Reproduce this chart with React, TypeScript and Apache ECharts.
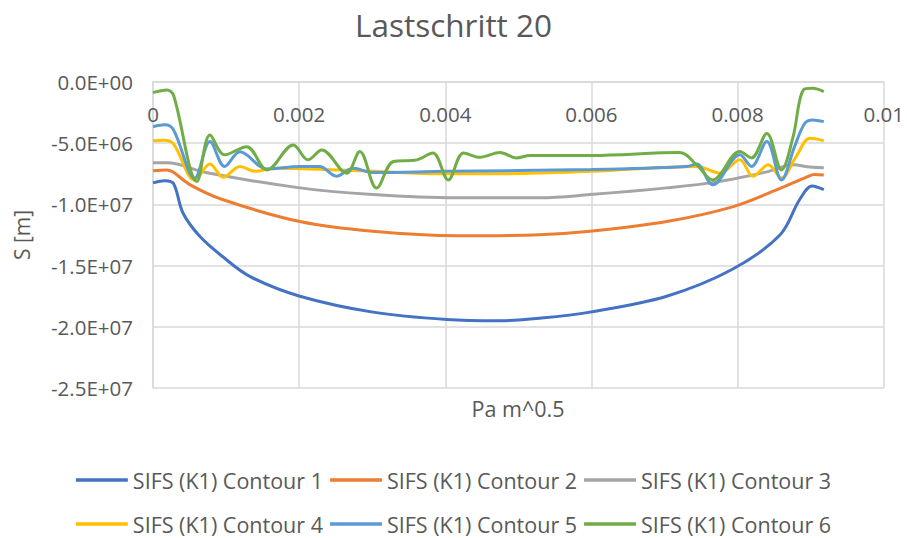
import React, { useEffect, useRef } from "react";
import * as echarts from "echarts";

const seriesNames = [
  "SIFS (K1) Contour 1",
  "SIFS (K1) Contour 2",
  "SIFS (K1) Contour 3",
  "SIFS (K1) Contour 4",
  "SIFS (K1) Contour 5",
  "SIFS (K1) Contour 6",
];
const colors = ["#4472C4", "#ED7D31", "#A5A5A5", "#FFC000", "#5B9BD5", "#70AD47"];

const c1X = [0, 0.00016, 0.00028, 0.00041, 0.00064, 0.00096, 0.00133, 0.00201, 0.00301, 0.00402, 0.00475, 0.00529, 0.00598, 0.00703, 0.00793, 0.00858, 0.00885, 0.00902, 0.00918];
const c1Y = [-8.24e6, -8.07e6, -8.3e6, -1.07e7, -1.26e7, -1.43e7, -1.59e7, -1.75e7, -1.88e7, -1.94e7, -1.95e7, -1.93e7, -1.88e7, -1.75e7, -1.53e7, -1.25e7, -9.6e6, -8.5e6, -8.8e6];

const c2X = [0, 0.00019, 0.00027, 0.00051, 0.00096, 0.00201, 0.00301, 0.00416, 0.00529, 0.00598, 0.00703, 0.00793, 0.00854, 0.00895, 0.00905, 0.00918];
const c2Y = [-7.26e6, -7.18e6, -7.34e6, -8.4e6, -9.62e6, -1.14e7, -1.22e7, -1.256e7, -1.248e7, -1.22e7, -1.14e7, -1.02e7, -8.8e6, -7.75e6, -7.55e6, -7.6e6];

const c3X = [0, 0.00019, 0.00074, 0.00201, 0.00301, 0.00416, 0.00529, 0.00598, 0.00703, 0.00772, 0.0084, 0.00876, 0.00899, 0.00918];
const c3Y = [-6.6e6, -6.6e6, -7.42e6, -8.65e6, -9.2e6, -9.46e6, -9.46e6, -9.2e6, -8.65e6, -8.16e6, -7.34e6, -6.77e6, -6.95e6, -7.0e6];

const c4X = [0, 0.00015, 0.00028, 0.00057, 0.00078, 0.00096, 0.00119, 0.0014, 0.00165, 0.00301, 0.00393, 0.00475, 0.006, 0.00744, 0.00776, 0.00803, 0.00821, 0.00842, 0.0086, 0.0088, 0.00899, 0.00918];
const c4Y = [-4.8e6, -4.75e6, -5.06e6, -8.0e6, -6.7e6, -7.78e6, -6.9e6, -7.3e6, -7.04e6, -7.3e6, -7.5e6, -7.5e6, -7.3e6, -6.9e6, -7.45e6, -6.36e6, -7.7e6, -6.77e6, -7.85e6, -6.1e6, -4.6e6, -4.8e6];

const c5X = [0, 0.00016, 0.00028, 0.00057, 0.00078, 0.00098, 0.00119, 0.00156, 0.00201, 0.00228, 0.00251, 0.00274, 0.00301, 0.004, 0.006, 0.0073, 0.00744, 0.00766, 0.00803, 0.00819, 0.0084, 0.0086, 0.00878, 0.00892, 0.00903, 0.00918];
const c5Y = [-3.65e6, -3.5e6, -3.9e6, -7.85e6, -4.87e6, -6.9e6, -5.7e6, -7.1e6, -6.9e6, -6.9e6, -7.7e6, -7.04e6, -7.4e6, -7.3e6, -7.15e6, -6.9e6, -6.7e6, -8.4e6, -5.95e6, -6.9e6, -4.87e6, -8.0e6, -5.28e6, -3.37e6, -3.1e6, -3.24e6];

const c6X = [0, 0.00019, 0.00028, 0.0006, 0.00078, 0.00098, 0.00128, 0.00156, 0.00192, 0.00212, 0.00231, 0.00265, 0.00283, 0.00306, 0.00329, 0.00361, 0.00383, 0.00404, 0.00425, 0.00447, 0.00475, 0.00497, 0.00516, 0.006, 0.00721, 0.00744, 0.00766, 0.00803, 0.00819, 0.0084, 0.0086, 0.00876, 0.0089, 0.00903, 0.00918];
const c6Y = [-8.7e5, -6.5e5, -1.06e6, -8.13e6, -4.32e6, -5.95e6, -5.28e6, -7.18e6, -5.14e6, -6.36e6, -5.55e6, -7.45e6, -5.68e6, -8.67e6, -6.5e6, -6.36e6, -5.8e6, -8.0e6, -5.8e6, -6.15e6, -5.76e6, -6.2e6, -6.0e6, -6.0e6, -5.76e6, -6.77e6, -8.0e6, -5.68e6, -6.2e6, -4.2e6, -7.18e6, -4.46e6, -6.5e5, -5.1e5, -7.9e5];

const allX = [c1X, c2X, c3X, c4X, c5X, c6X];
const allY = [c1Y, c2Y, c3Y, c4Y, c5Y, c6Y];

const FONT = "'Open Sans', sans-serif";
const TXT = "#595959";
const AXIS_FS = 20.5;

function sci(v: number): string {
  if (v === 0) return "0.0E+00";
  const e = Math.floor(Math.log10(Math.abs(v)) + 1e-9);
  const m = v / Math.pow(10, e);
  return m.toFixed(1) + "E+" + String(e).padStart(2, "0");
}

export default function App() {
  const ref = useRef<HTMLDivElement>(null);
  useEffect(() => {
    if (!ref.current) return;
    const chart = echarts.init(ref.current, undefined, { renderer: "svg" });
    const series = seriesNames.map((name, i) => ({
      name,
      type: "line",
      smooth: 0.35,
      symbol: "none",
      data: allX[i].map((x, j) => [x, allY[i][j]]),
      lineStyle: { color: colors[i], width: 3 },
      itemStyle: { color: colors[i] },
    }));
    const legendCommon = {
      left: "center",
      icon: "rect",
      itemWidth: 52,
      itemHeight: 3.5,
      itemGap: 7,
      textStyle: { fontFamily: FONT, fontSize: 21.5, color: TXT },
    };
    chart.setOption({
      animation: false,
      color: colors,
      textStyle: { fontFamily: FONT },
      title: {
        text: "Lastschritt 20",
        left: "center",
        top: 3,
        textStyle: { fontFamily: FONT, fontSize: 31.5, fontWeight: "normal", color: TXT },
      },
      grid: { left: 153, right: 23, top: 82, bottom: 150, containLabel: false },
      xAxis: {
        type: "value",
        position: "top",
        min: 0,
        max: 0.01,
        interval: 0.002,
        axisLine: { show: true, lineStyle: { color: "#D9D9D9", width: 1.5 } },
        axisTick: { show: false },
        axisLabel: {
          inside: true,
          margin: 21,
          fontFamily: FONT,
          fontSize: AXIS_FS,
          color: TXT,
          formatter: (v: number) => String(parseFloat(v.toFixed(4))),
        },
        splitLine: { show: true, lineStyle: { color: "#D9D9D9", width: 1.5 } },
      },
      yAxis: {
        type: "value",
        min: -2.5e7,
        max: 0,
        interval: 5e6,
        name: "S [m]",
        nameLocation: "middle",
        nameGap: 121,
        nameTextStyle: { fontFamily: FONT, fontSize: 21, color: TXT },
        axisLine: { show: true, lineStyle: { color: "#D9D9D9", width: 1.5 } },
        axisTick: { show: false },
        axisLabel: { margin: 20, fontFamily: FONT, fontSize: AXIS_FS, color: TXT, formatter: sci },
        splitLine: { show: true, lineStyle: { color: "#D9D9D9", width: 1.5 } },
      },
      legend: [
        { ...legendCommon, top: 464, data: seriesNames.slice(0, 3) },
        { ...legendCommon, top: 508, data: seriesNames.slice(3, 6) },
      ],
      graphic: [
        {
          type: "text",
          x: 518,
          y: 408,
          style: {
            text: "Pa m^0.5",
            align: "center",
            verticalAlign: "middle",
            fontFamily: FONT,
            fontSize: 21.5,
            fill: TXT,
          },
        },
      ],
      series,
    });
    return () => chart.dispose();
  }, []);
  return (
    <div
      ref={ref}
      style={{ position: "fixed", left: 0, top: 0, width: 907, height: 538, background: "#fff" }}
    />
  );
}
